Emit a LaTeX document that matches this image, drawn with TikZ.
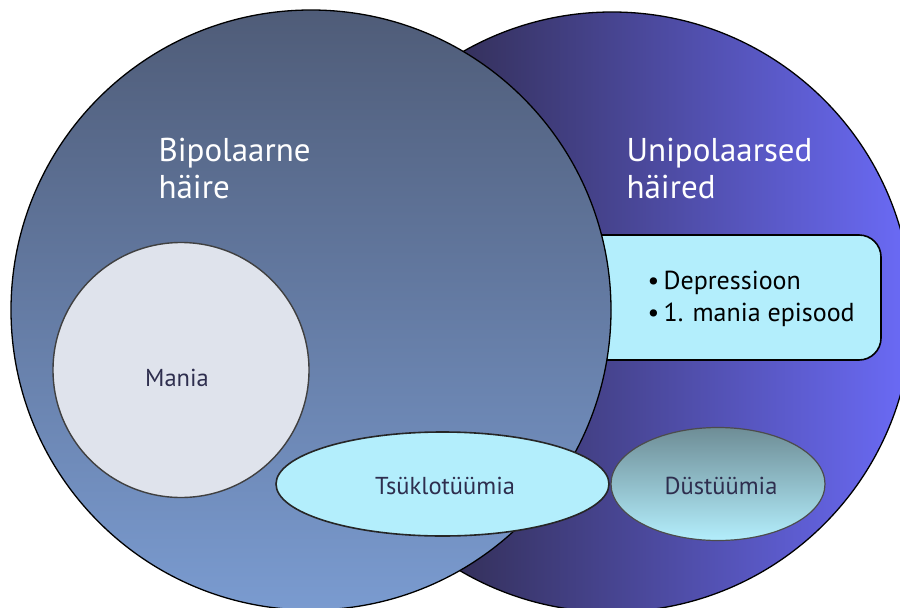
\documentclass[tikz,border=0pt]{standalone}
\usepackage{fontspec}
\setmainfont{PT Sans}
\usetikzlibrary{shapes.geometric}
\definecolor{bipTop}{HTML}{4F5C78}
\definecolor{bipBot}{HTML}{7A9BD0}
\definecolor{uniL}{HTML}{34305A}
\definecolor{uniR}{HTML}{6A6AF5}
\definecolor{paleCyan}{HTML}{B3EEFC}
\definecolor{maniaFill}{HTML}{DFE3EC}
\definecolor{dysTop}{HTML}{6E8D96}
\definecolor{darkText}{HTML}{2E2E4E}
\tikzset{
  bigcircle/.style={circle, draw=black, line width=1.3pt, minimum size=600pt, inner sep=0pt},
  inner ell/.style={ellipse, inner sep=0pt, draw=black!85, line width=1.6pt},
  titletext/.style={text=white, font=\fontsize{33}{37}\selectfont, align=left, anchor=north west},
  smalltext/.style={text=darkText, font=\fontsize{24.5}{28}\selectfont},
  boxtext/.style={text=black, font=\fontsize{26}{32}\selectfont, align=left, anchor=west}
}
\begin{document}
\begin{tikzpicture}[x=1pt,y=-1pt]
\useasboundingbox (0,0) rectangle (900,608);
\clip (0,0) rectangle (900,608);
% right circle: gradient over its visible part
\begin{scope}
  \clip (612,312) circle[radius=300pt];
  \shade[left color=uniL, right color=uniR] (455,0) rectangle (905,620);
\end{scope}
\node[bigcircle] (uni) at (612,312) {};
% box
\node[rectangle, rounded corners=22pt, draw=black, line width=1.6pt, fill=paleCyan,
      minimum width=330pt, minimum height=125pt, inner sep=0pt] (box) at (716,297.5) {};
% left circle
\node[bigcircle, top color=bipTop, bottom color=bipBot] (bip) at (311,310) {};
% mania
\node[inner ell, fill=maniaFill, draw=black!75, line width=1.4pt, minimum width=256pt, minimum height=255pt] (mania) at (181,370) {};
% tsüklotüümia
\node[inner ell, fill=paleCyan, minimum width=333pt, minimum height=104pt] (tsy) at (442.5,484) {};
% düstüümia
\node[inner ell, top color=dysTop, bottom color=paleCyan, draw=black!70, line width=1.2pt, minimum width=214pt, minimum height=113pt] (dys) at (718,484) {};
% texts
\node[titletext] (biplabel) at (155,135) {Bipolaarne\\häire};
\node[titletext] (unilabel) at (623,135) {Unipolaarsed\\häired};
\node[boxtext] (boxlabel) at (644,299) {•\,Depressioon\\•\,1. mania episood};
\node[smalltext] (manialabel) at (177,378) {Mania};
\node[smalltext] (tsylabel) at (445,486) {Tsüklotüümia};
\node[smalltext] (dyslabel) at (721,486) {Düstüümia};
\end{tikzpicture}
\end{document}
